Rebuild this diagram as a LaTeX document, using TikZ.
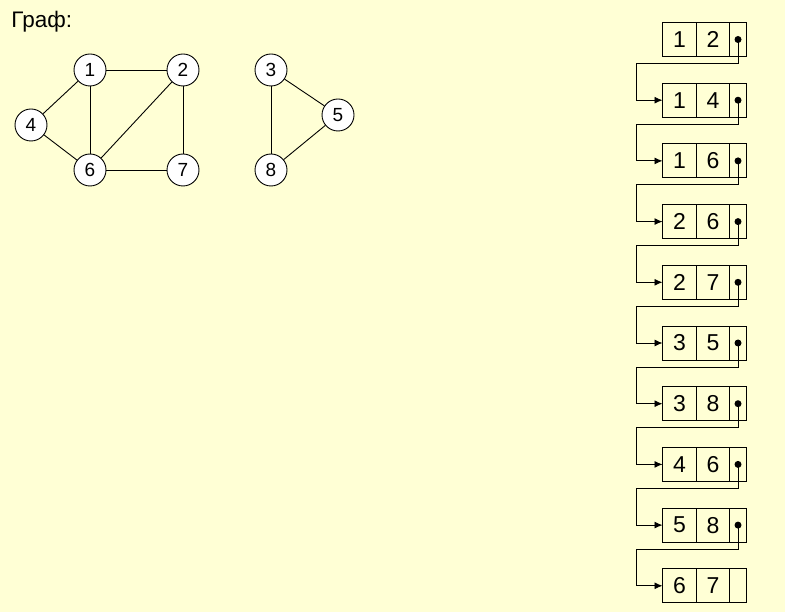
\documentclass[tikz,border=0pt]{standalone}
\usepackage{fontspec}
\setmainfont{Liberation Sans}
\usetikzlibrary{positioning,arrows.meta}
\definecolor{paper}{RGB}{255,255,213}
\begin{document}
\begin{tikzpicture}[
			x=1pt, y=-1pt, line width=0.9pt,
			vertex/.style={circle, draw, fill=white, minimum size=32pt, inner sep=0pt, font=\fontsize{19}{19}\selectfont},
			cell/.style={rectangle, draw, minimum height=34pt, inner sep=0pt, outer sep=0pt, anchor=west, font=\fontsize{23}{23}\selectfont},
			link/.style={-{Latex[length=8pt, width=7pt]}},
		]
		\path[use as bounding box, fill=paper] (0,0) rectangle (785,612);
		\node[anchor=base west, inner sep=0pt, font=\fontsize{22.5}{22.5}\selectfont] (title) at (11,28) {Граф:};
		\node[vertex] (v1) at (90,70) {1};
		\node[vertex] (v2) at (183,70) {2};
		\node[vertex] (v4) at (31,125) {4};
		\node[vertex] (v6) at (90,170) {6};
		\node[vertex] (v7) at (183,170) {7};
		\node[vertex] (v3) at (271,70) {3};
		\node[vertex] (v5) at (338,115) {5};
		\node[vertex] (v8) at (271,170) {8};
		\foreach \a/\b in {1/2,1/4,1/6,2/6,2/7,3/5,3/8,4/6,5/8,6/7}
			\draw (v\a) -- (v\b);
		\foreach \a/\b [count=\k from 0] in {1/2,1/4,1/6,2/6,2/7,3/5,3/8,4/6,5/8,6/7} {
				\node[cell, minimum width=34pt] (u\k) at (662.5,{39.5+60.7*\k}) {\a};
				\node[cell, minimum width=33pt, right=0pt of u\k] (w\k) {\b};
				\node[cell, minimum width=17pt, right=0pt of w\k] (p\k) {};
			}
		\foreach \k [count=\n] in {0,...,8} {
				\fill (p\k.center) circle (3.5pt);
				\draw[link] (p\k.center) -- ++(0,24) -- ++(-102,0) |- (u\n.west);
			}
\end{tikzpicture}
\end{document}
